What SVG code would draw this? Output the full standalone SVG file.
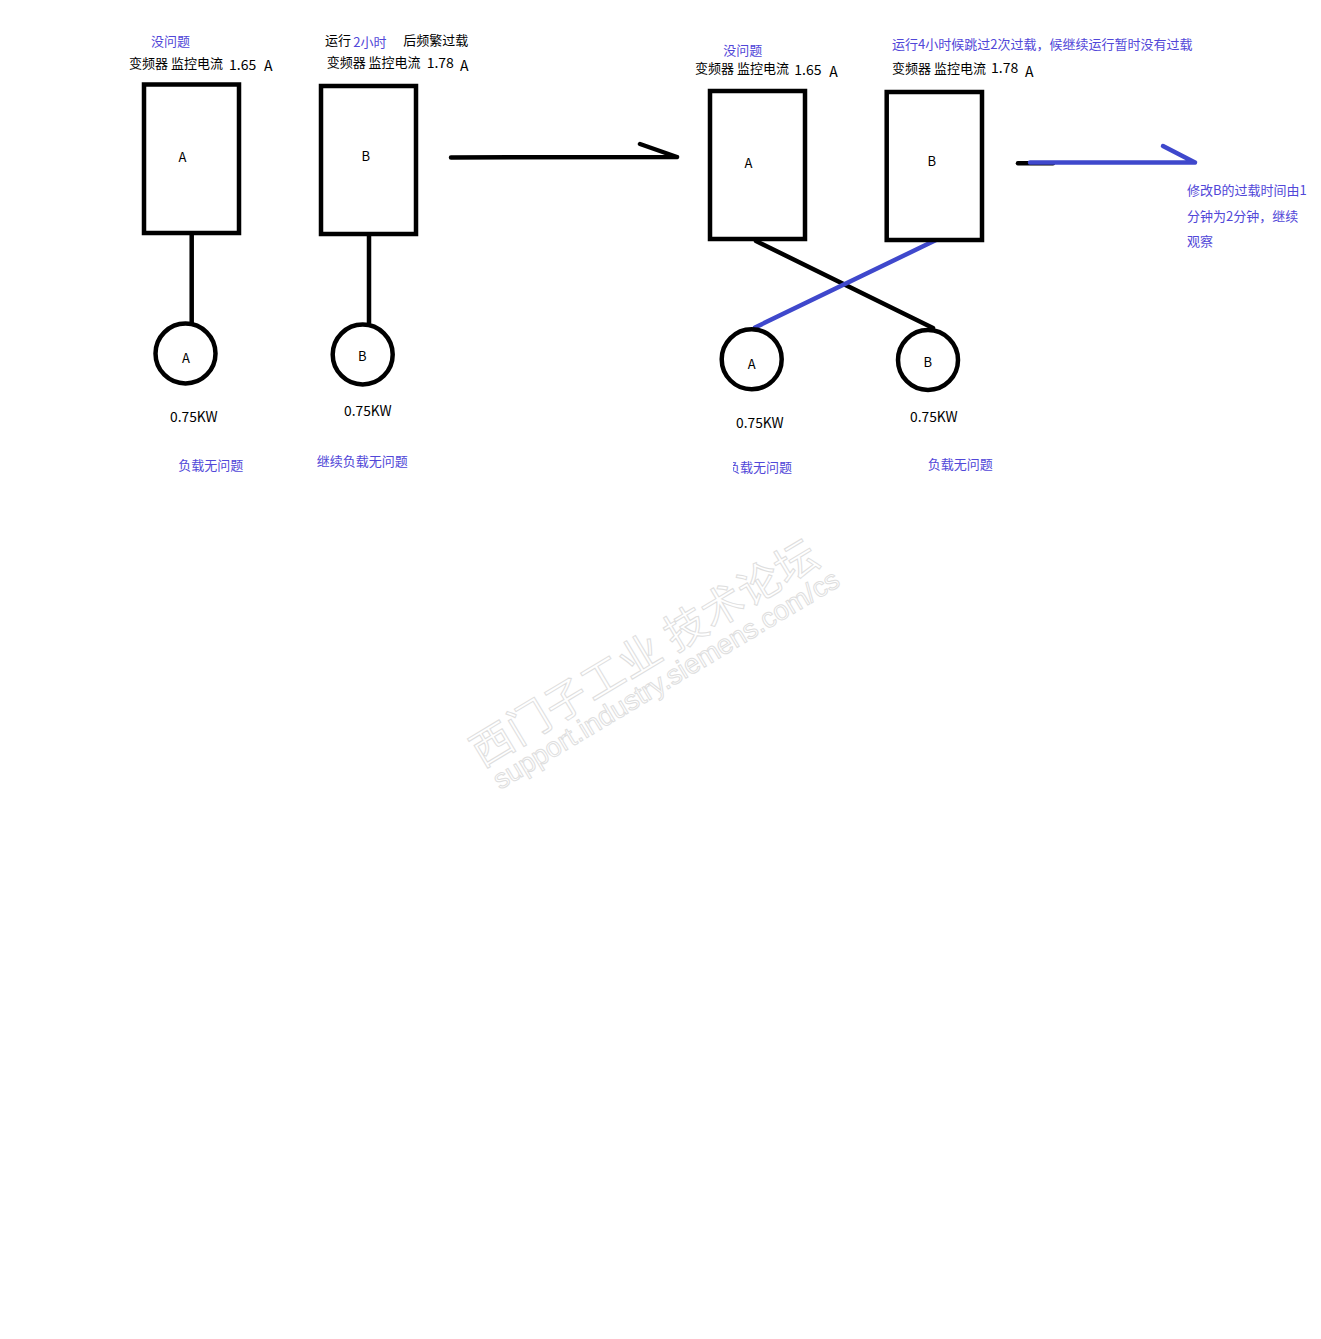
<svg xmlns="http://www.w3.org/2000/svg" width="1321" height="1339" viewBox="0 0 1321 1339">
<style>
text{font-family:"Noto Sans CJK SC","Noto Sans",sans-serif;}
.t{font-size:13px;fill:#000;}
.k{font-size:13.8px;fill:#000;}
.n{font-size:14px;fill:#000;}
.b{font-size:13px;fill:#5147D8;}
.lbl{font-size:13px;fill:#000;text-anchor:middle;}
.box{fill:#fff;stroke:#000;stroke-width:4.5;}
.mot{fill:#fff;stroke:#000;stroke-width:4.5;}
.ln{stroke:#000;stroke-width:4.5;fill:none;stroke-linecap:round;}
.lnb{stroke:#3F48CC;stroke-width:4.5;fill:none;stroke-linecap:round;}
.wm{fill:#fff;stroke:#dedede;stroke-width:1;}
</style>
<defs>
<clipPath id="clip1"><rect x="733" y="440" width="100" height="50"/></clipPath>
</defs>
<rect width="1321" height="1339" fill="#fff"/>

<!-- watermark -->
<g id="watermark">
<text class="wm" transform="translate(482,768) rotate(-31)" style="font-size:42px;letter-spacing:1px;">西门子工业 技术论坛</text>
<text class="wm" transform="translate(500,790) rotate(-31)" style="font-family:'Liberation Sans',Arial,sans-serif;font-size:27.5px;">support.industry.siemens.com/cs</text>
</g>

<!-- connectors -->
<g id="connectors">
<line class="ln" x1="191.7" y1="235" x2="191.7" y2="323"/>
<line class="ln" x1="369" y1="236" x2="369" y2="323"/>
<path class="ln" d="M451,157.5 L677,157 M640,144 L677,157"/>
<line class="ln" x1="756" y1="241" x2="933" y2="328"/>
<line class="lnb" x1="936" y1="240" x2="755" y2="327.5"/>
<line class="ln" x1="1018" y1="163.3" x2="1053" y2="163.3"/>
<path class="lnb" d="M1030,162.5 L1195,162.5 M1163,146 L1195,162.5"/>
</g>

<!-- left group -->
<g id="vfd-A1">
<rect class="box" x="144" y="84.5" width="95" height="148.5"/>
<text class="lbl" x="182.5" y="162">A</text>
</g>
<g id="motor-A1">
<circle class="mot" cx="185.5" cy="353.5" r="30"/>
<text class="lbl" x="186" y="363">A</text>
</g>
<g id="vfd-B1">
<rect class="box" x="321" y="86" width="95" height="148"/>
<text class="lbl" x="365.7" y="160.5">B</text>
</g>
<g id="motor-B1">
<circle class="mot" cx="362.7" cy="354.5" r="30"/>
<text class="lbl" x="362.3" y="360.5">B</text>
</g>

<!-- right group -->
<g id="vfd-A2">
<rect class="box" x="710" y="91" width="95" height="148"/>
<text class="lbl" x="748.5" y="168">A</text>
</g>
<g id="vfd-B2">
<rect class="box" x="886.7" y="92" width="95.3" height="148"/>
<text class="lbl" x="931.8" y="166">B</text>
</g>
<g id="motor-A2">
<circle class="mot" cx="751.7" cy="359.3" r="30"/>
<text class="lbl" x="751.8" y="369">A</text>
</g>
<g id="motor-B2">
<circle class="mot" cx="928" cy="360" r="30"/>
<text class="lbl" x="927.7" y="367">B</text>
</g>

<!-- labels left -->
<g id="labels-A1">
<text class="b" x="151" y="45.5">没问题</text>
<text class="t" x="129" y="68">变频器 监控电流</text>
<text class="n" x="229" y="70">1.65</text>
<text class="n" x="264" y="71">A</text>
<text class="k" x="170" y="422">0.75KW</text>
<text class="b" x="178.3" y="469.5">负载无问题</text>
</g>
<g id="labels-B1">
<text class="t" x="325" y="45">运行</text>
<text class="b" x="353.3" y="47">2小时</text>
<text class="t" x="403.3" y="45">后频繁过载</text>
<text class="t" x="326.7" y="67">变频器 监控电流</text>
<text class="n" x="426.7" y="67.7">1.78</text>
<text class="n" x="460" y="70.7">A</text>
<text class="k" x="344" y="415.7">0.75KW</text>
<text class="b" x="316.7" y="465.5">继续负载无问题</text>
</g>

<!-- labels right -->
<g id="labels-A2">
<text class="b" x="723.3" y="55">没问题</text>
<text class="t" x="695" y="73">变频器 监控电流</text>
<text class="n" x="794.3" y="75">1.65</text>
<text class="n" x="829.3" y="76.7">A</text>
<text class="k" x="736" y="428.3">0.75KW</text>
<text class="b" x="727" y="472" clip-path="url(#clip1)">负载无问题</text>
</g>
<g id="labels-B2">
<text class="b" x="892" y="49">运行4小时候跳过2次过载，候继续运行暂时没有过载</text>
<text class="t" x="892" y="72.5">变频器 监控电流</text>
<text class="n" x="991" y="73">1.78</text>
<text class="n" x="1025" y="76.7">A</text>
<text class="k" x="910" y="421.7">0.75KW</text>
<text class="b" x="927.7" y="468.5">负载无问题</text>
</g>
<g id="note">
<text class="b" x="1187" y="195">修改B的过载时间由1</text>
<text class="b" x="1187" y="220.5">分钟为2分钟，继续</text>
<text class="b" x="1187" y="245.5">观察</text>
</g>
</svg>
